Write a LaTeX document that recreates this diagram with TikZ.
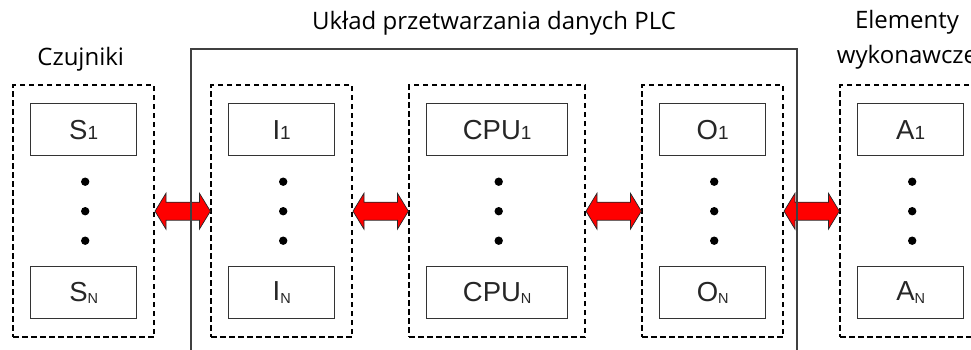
\documentclass[tikz,border=0pt]{standalone}
\usepackage{fontspec}
\setmainfont{Liberation Sans}
\newfontfamily\handfont{Open Sans}
\usepackage{tikz}
\usetikzlibrary{matrix, positioning, calc, fit}
\tikzset{% styles of the PLC picture
	unit/.style={draw=black!80, line width=1pt, minimum width=106pt, minimum height=52pt, inner sep=0pt, anchor=center, text=black!85, font=\fontsize{27.5}{30}\selectfont},
	wideunit/.style={minimum width=141pt},
	groupbox/.style={draw, line width=1.6pt, dash pattern=on 5.5pt off 3.5pt, inner xsep=17pt, inner ysep=18pt},
	bigbox/.style={draw=black!75, line width=1.5pt},
	caption/.style={font=\handfont\fontsize{24}{28}\selectfont},
	fatarrow/.style={fill=red, draw=black!85, line width=0.7pt},
}
\newcommand{\idx}[1]{{\fontsize{19}{20}\selectfont #1}}
\newcommand{\idxN}{\raisebox{-2.5pt}{\fontsize{14.5}{15}\selectfont N}}
% fat double arrow between two dashed groups
\newcommand{\dblarrow}[2]{%
	\filldraw[fatarrow] (#1.east) -- ++(11,-18) -- ++(0,9) -- ($(#2.west)+(-11,-9)$) -- ++(0,-9) -- (#2.west)
	-- ++(-11,18) -- ++(0,-9) -- ($(#1.east)+(11,9)$) -- ++(0,9) -- cycle;}

\begin{document}
\begin{tikzpicture}[x=1pt, y=-1pt]
	\useasboundingbox (0,0) rectangle (971,349);
	\clip (0,0) rectangle (971,349);

	\matrix[%
	matrix of nodes,
	nodes={unit},
	inner sep=0pt,
	column sep=91pt, row sep=110pt,
	anchor=north west,
	] (m) at (30,103) {%
		S\idx{1} & I\idx{1} & |[wideunit]| CPU\idx{1} & O\idx{1} & A\idx{1} \\
		S\idxN & I\idxN & |[wideunit]| CPU\idxN & O\idxN & A\idxN \\
	};

	% dashed groups round each column
	\foreach \c/\name in {1/sen, 2/inp, 3/cpu, 4/out, 5/act}
		\node[groupbox, fit=(m-1-\c)(m-2-\c)] (\name) {};

	% vertical dots
	\foreach \c in {1,...,5}
		\foreach \d in {-29.5, 0, 29.5}
			\fill ($(m-1-\c)!0.5!(m-2-\c) + (1.5,\d)$) circle (4.2pt);

	\dblarrow{sen}{inp}
	\dblarrow{inp}{cpu}
	\dblarrow{cpu}{out}
	\dblarrow{out}{act}

	% PLC frame
	\draw[bigbox] (191,360) |- (797,49) -- (797,360);

	\node[caption, above=19pt of sen.north, anchor=base, xshift=-3pt] (sentitle) {Czujniki};
	\node[caption, anchor=base] (plctitle) at (494,29) {Układ przetwarzania danych PLC};
	\node[caption, anchor=base] (acttitle) at (907,28) {Elementy};
	\node[caption, below=35pt of acttitle.base, anchor=base] (acttitle2) {wykonawcze};
\end{tikzpicture}
\end{document}
